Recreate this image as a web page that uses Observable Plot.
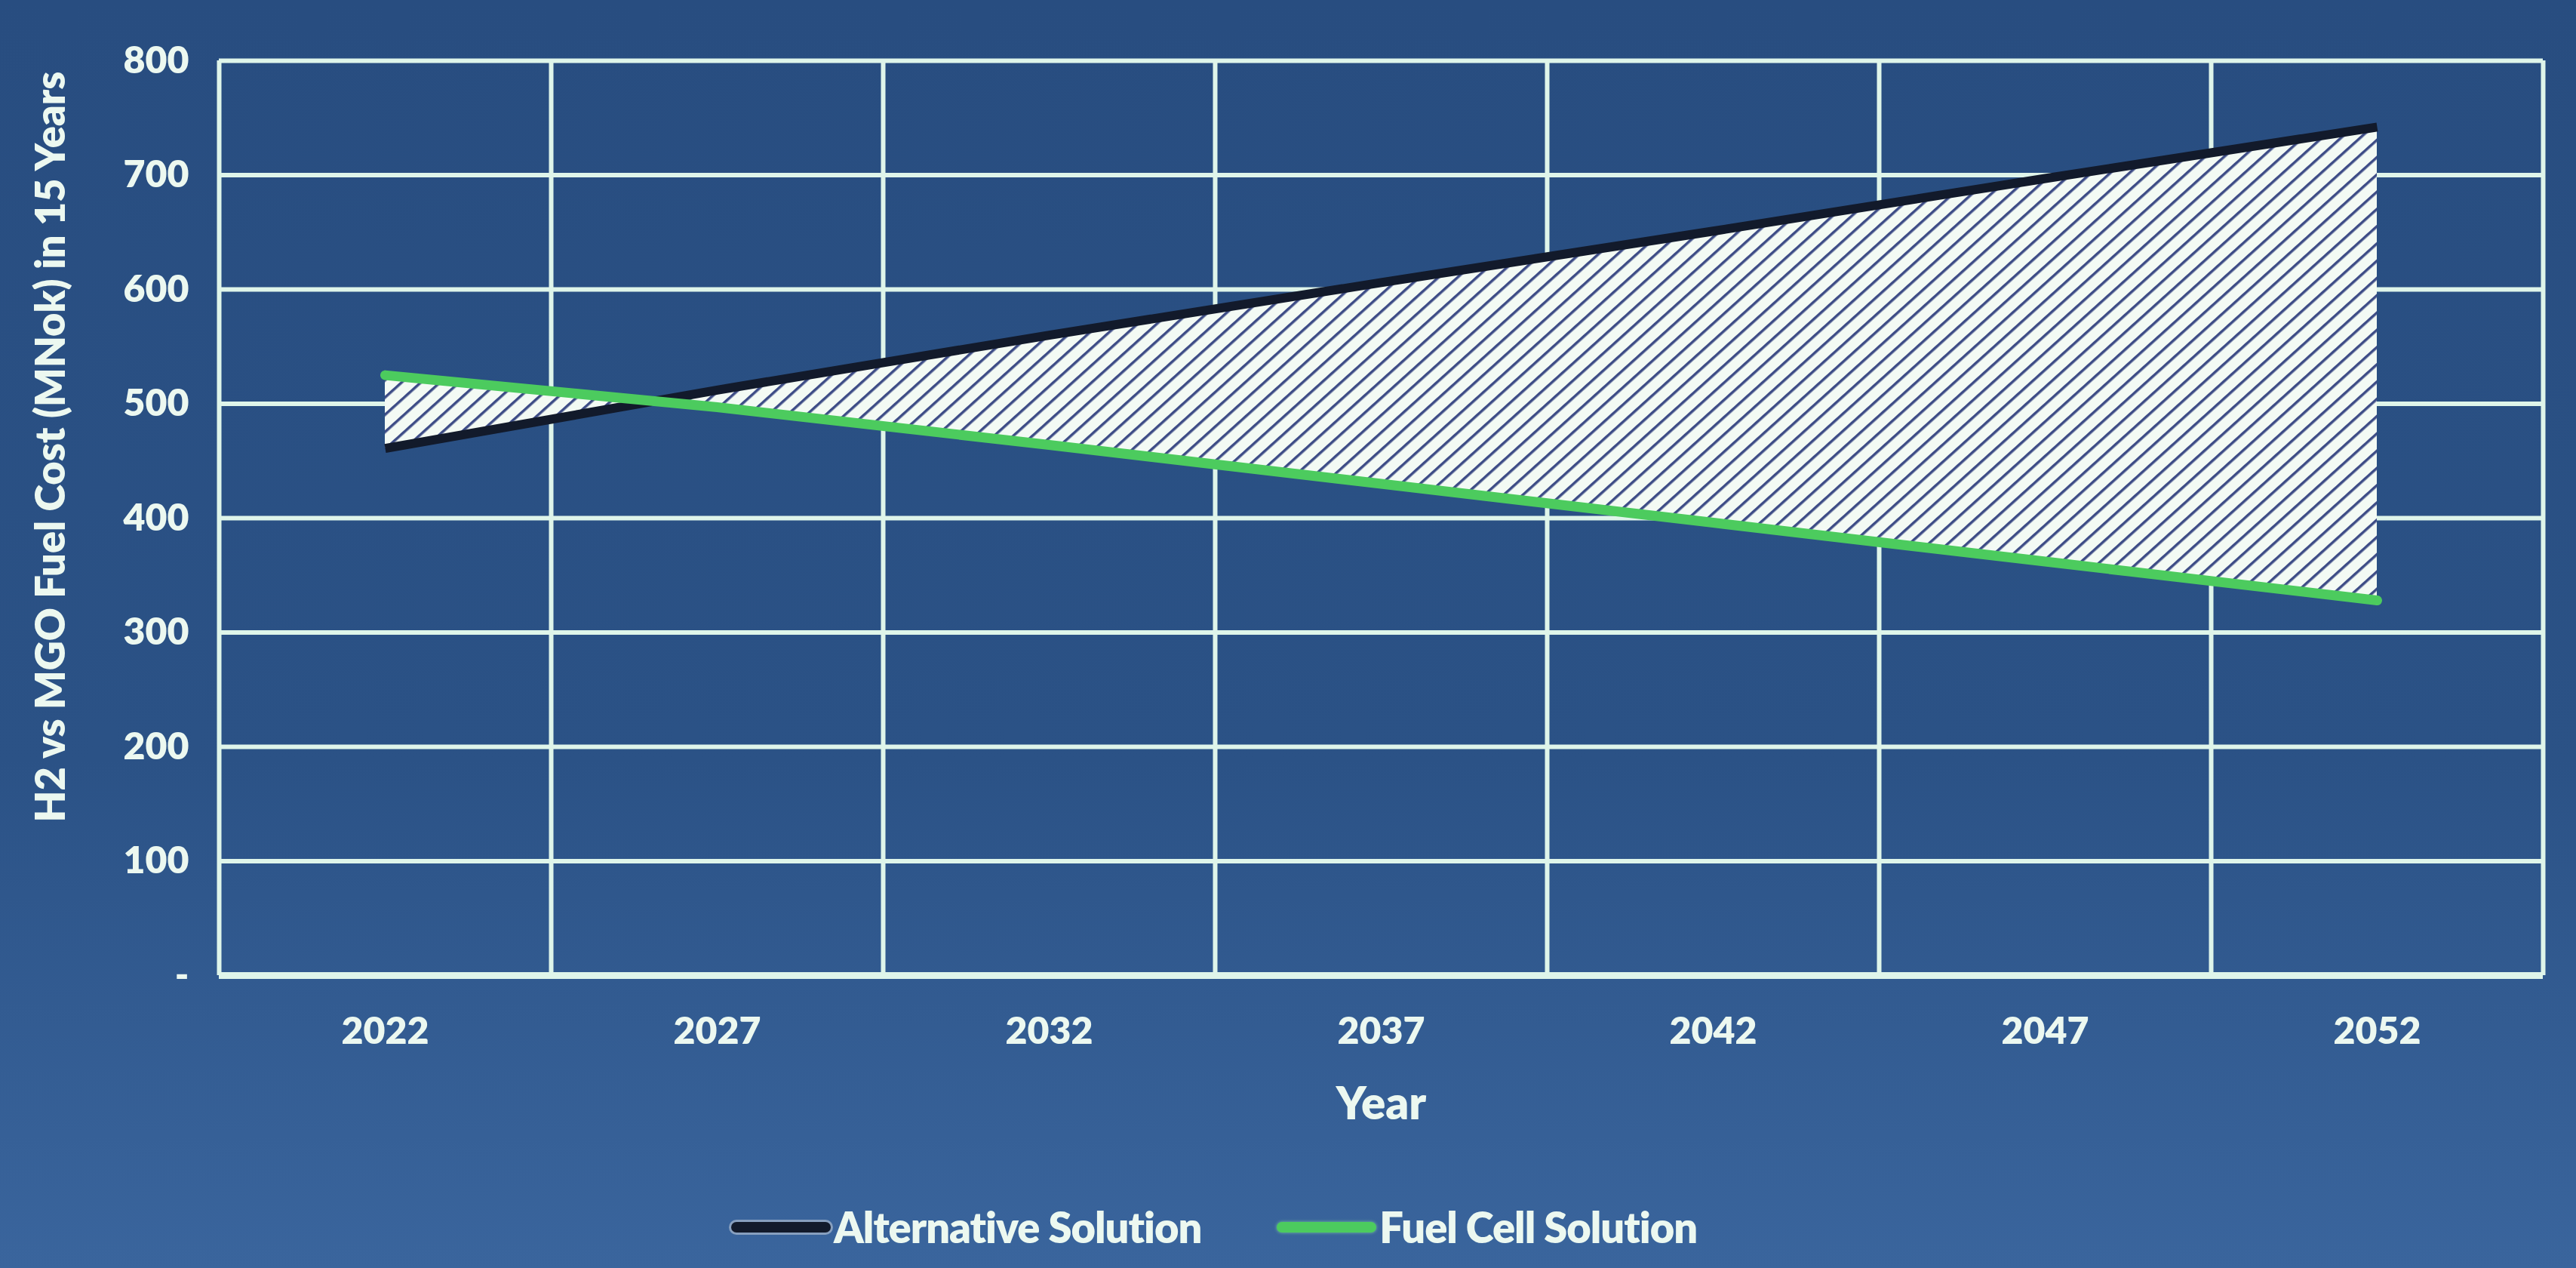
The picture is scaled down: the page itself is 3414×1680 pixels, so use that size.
<!DOCTYPE html>
<html>
<head>
<meta charset="utf-8">
<script src="https://cdn.jsdelivr.net/npm/d3@7"></script>
<script src="https://cdn.jsdelivr.net/npm/@observablehq/plot@0.6"></script>
<style>
  html, body { margin: 0; padding: 0; }
  body {
    width: 3414px; height: 1680px; overflow: hidden;
    background: linear-gradient(180deg, #284d80 0%, #2b5286 60%, #3a659d 100%);
    font-family: Lato, "Open Sans", sans-serif; font-weight: 800; color: #ecf8f0;
    position: relative;
  }
  #chart { position: absolute; left: 0; top: 0; }
  #ytitle { position: absolute; left: 65px; top: 592px; transform: translate(-50%, -50%) rotate(-90deg);
    white-space: nowrap; font-size: 54px; }
  #legend { position: absolute; left: 969px; top: 1592px; display: flex; align-items: center; font-size: 56px; letter-spacing: -1px; }
  .item { display: flex; align-items: center; margin-right: 100px; }
  .sw { width: 132px; height: 14px; border-radius: 7px; margin-right: 4px; }
</style>
</head>
<body>
<div id="chart"></div>
<div id="ytitle"></div>
<div id="legend"></div>
<script>
// ---- data ----
const years = [2022, 2027, 2032, 2037, 2042, 2047, 2052];
const alternative = [461, 512, 560, 606, 651, 697, 742];
const fuelCell = [525, 497, 464, 430, 396, 362, 328];
const yTicks = [0, 100, 200, 300, 400, 500, 600, 700, 800];
const xTicks = [2022, 2027, 2032, 2037, 2042, 2047, 2052];
const gridYears = [2019.5, 2024.5, 2029.5, 2034.5, 2039.5, 2044.5, 2049.5, 2054.5];
const seriesNames = ["Alternative Solution", "Fuel Cell Solution"];
const seriesColors = ["#121a2b", "#4ccb5e"];
const xTitle = "Year";
const yTitle = "H2 vs MGO Fuel Cost (MNok) in 15 Years";

const rows = years.map((y, i) => ({year: y, alt: alternative[i], fuel: fuelCell[i]}));

const grid = "#dff5ea";
const txt = "#ecf8f0";

const plot = Plot.plot({
  width: 3414,
  height: 1540,
  marginLeft: 290,
  marginRight: 44,
  marginTop: 80,
  marginBottom: 248,
  style: {background: "transparent", color: txt, fontFamily: "Lato, 'Open Sans', sans-serif", fontWeight: 800},
  x: {domain: [2019.5, 2054.5]},
  y: {domain: [0, 800]},
  marks: [
    Plot.ruleY(yTicks.filter(d => d > 0), {stroke: grid, strokeWidth: 6}),
    Plot.ruleX(gridYears, {stroke: grid, strokeWidth: 6}),
    Plot.ruleY([0], {stroke: grid, strokeWidth: 9}),
    Plot.areaY(rows, {x: "year", y1: "fuel", y2: "alt", fill: "url(#hatch)"}),
    Plot.lineY(rows, {x: "year", y: "alt", stroke: seriesColors[0], strokeWidth: 12, strokeLinecap: "butt"}),
    Plot.lineY(rows, {x: "year", y: "fuel", stroke: seriesColors[1], strokeWidth: 13}),
    Plot.axisX({ticks: xTicks, tickFormat: d => String(d), tickSize: 0, tickPadding: 55, fontSize: 50, label: null}),
    Plot.axisX({ticks: [], tickSize: 0, fontSize: 60,
      label: xTitle, labelAnchor: "center", labelOffset: 190, labelArrow: "none"}),
    Plot.axisY({ticks: yTicks, tickFormat: d => d === 0 ? "-" : String(d), tickSize: 0, tickPadding: 40, fontSize: 50, label: null})
  ]
});

const defs = d3.select(plot).insert("defs", ":first-child");
const pat = defs.append("pattern").attr("id", "hatch").attr("patternUnits", "userSpaceOnUse")
  .attr("width", 17).attr("height", 17).attr("patternTransform", "rotate(-42)");
pat.append("rect").attr("width", 17).attr("height", 17).attr("fill", "#f3faf4");
pat.append("rect").attr("width", 17).attr("height", 3.5).attr("fill", "#3d4c86");

document.getElementById("chart").appendChild(plot);
document.getElementById("ytitle").textContent = yTitle;

const legend = document.getElementById("legend");
seriesNames.forEach((n, i) => {
  const it = document.createElement("div");
  it.className = "item";
  const sw = document.createElement("div");
  sw.className = "sw";
  sw.style.background = seriesColors[i];
  sw.style.boxShadow = i === 0 ? "0 0 0 3px rgba(200,210,220,0.55)" : "0 0 4px rgba(160,255,160,0.6)";
  const t = document.createElement("span");
  t.textContent = n;
  it.appendChild(sw); it.appendChild(t);
  legend.appendChild(it);
});
</script>
</body>
</html>
